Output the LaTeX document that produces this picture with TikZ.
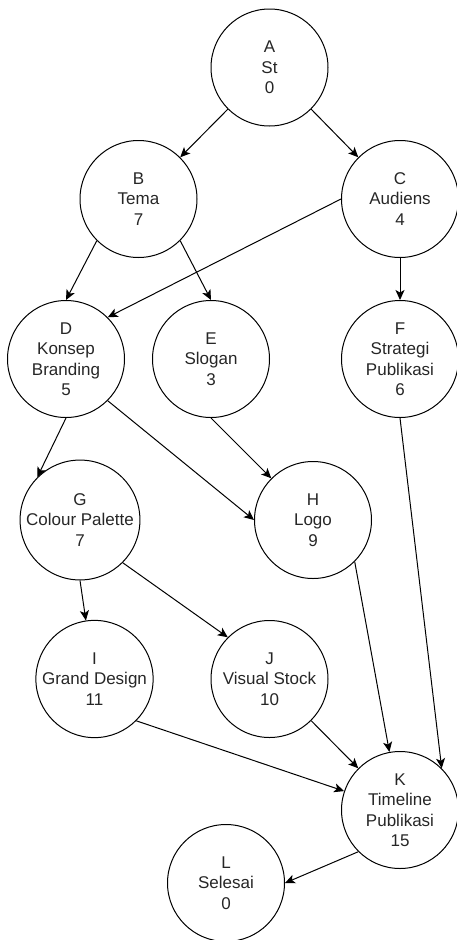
\documentclass[tikz,border=0pt]{standalone}
\usepackage{fontspec}
\setmainfont{Liberation Sans}
\usepackage{tikz}
\usetikzlibrary{arrows.meta, positioning}

\begin{document}
\begin{tikzpicture}[x=1pt, y=-1pt,
    task/.style={draw, circle, line width=1pt, minimum size=117pt, inner sep=0pt,
        align=center, text=black!85, font=\fontsize{17}{20.5}\selectfont},
    link/.style={line width=1pt, -{Stealth[length=10pt, width=9pt, inset=2.5pt]}}]
\useasboundingbox (0,0) rectangle (457,940);

% Start
\node[task] (A) at (269.5,67.5) {A\\St\\0};

% Tema and audiens
\node[task] (B) at (138.5,199) {B\\Tema\\7};
\node[task] (C) at (400,199) {C\\Audiens\\4};

% Konsep, slogan, strategi
\node[task] (D) at (66,359) {D\\Konsep\\Branding\\5};
\node[task] (E) at (211,359) {E\\Slogan\\3};
\node[task] (F) at (400,359) {F\\Strategi\\Publikasi\\6};

% Palette and logo
\node[task] (G) at (80,520) {G\\Colour Palette\\7};
\node[task] (H) at (313,520) {H\\Logo\\9};

% Design and stock
\node[task] (I) at (94.5,679) {I\\Grand Design\\11};
\node[task] (J) at (269.5,679) {J\\Visual Stock\\10};

% Timeline and end
\node[task] (K) at (400,810) {K\\Timeline\\Publikasi\\15};
\node[task] (L) at (226,883) {L\\Selesai\\0};

\draw[link] (A.south west) -- (B.north east);
\draw[link] (A.south east) -- (C.north west);
\draw[link] (B.south west) -- (D.north);
\draw[link] (B.south east) -- (E.north);
\draw[link] (C.west) -- (D.north east);
\draw[link] (C.south) -- (F.north);
\draw[link] (D.south) -- (G.north west);
\draw[link] (D.south east) -- (H.west);
\draw[link] (E.south) -- (H.north west);
\draw[link] (F.south) -- (K.north east);
\draw[link] (G.south) -- (I);
\draw[link] (G.south east) -- (J.north west);
\draw[link] (H.south east) -- (K);
\draw[link] (I.south east) -- (K);
\draw[link] (J.south east) -- (K.north west);
\draw[link] (K.south west) -- (L.east);
\end{tikzpicture}
\end{document}
